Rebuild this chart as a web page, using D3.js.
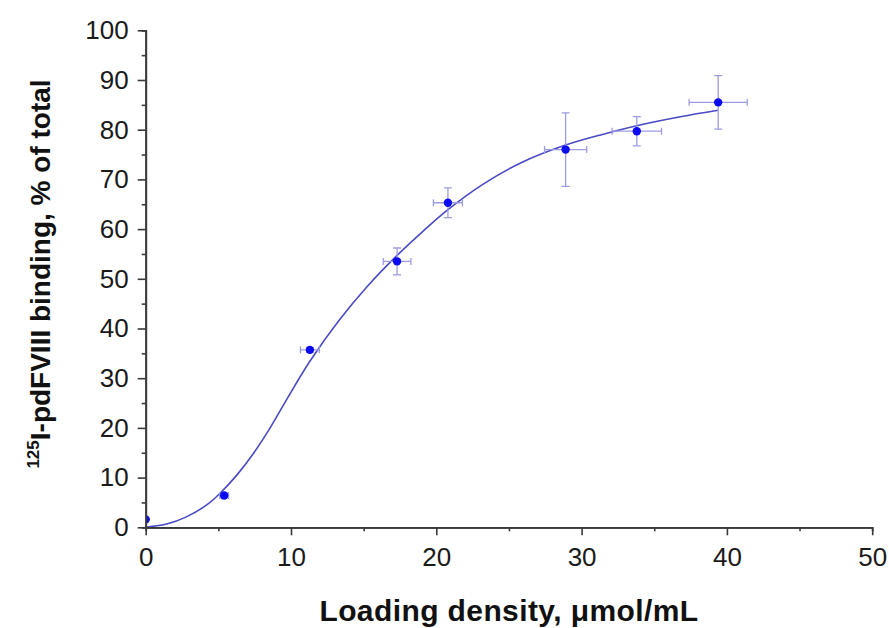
<!DOCTYPE html>
<html>
<head>
<meta charset="utf-8">
<script src="https://cdn.jsdelivr.net/npm/d3@7"></script>
<style>
  html, body { margin: 0; padding: 0; background: #fff; }
  svg text { font-family: Arial, "Liberation Sans", sans-serif; }
</style>
</head>
<body>
<svg id="chart" width="889" height="628"></svg>
<script>
// Measured binding points (loading density vs. bound fraction) with SD
const loadingDensity = [0, 5.4, 11.3, 17.3, 20.8, 28.9, 33.8, 39.4];
const bindingPct     = [1.6, 6.4, 35.7, 53.5, 65.3, 76.0, 79.7, 85.5];
const densityErr     = [0, 0.3, 0.65, 0.95, 1.0, 1.45, 1.7, 2.0];
const bindingErr     = [0, 0.4, 0.5, 2.7, 3.0, 7.4, 2.95, 5.4];

// Fitted saturation curve, sampled along x
const fitDensity = [0, 1.5, 2.8, 4.2, 5.1, 6.3, 7.4, 8.5, 9.6, 11.3, 13.3, 15.2, 17.3, 19.1, 20.8, 23.2, 25.8, 28.9, 31.5, 33.8, 36.8, 39.4];
const fitBinding = [0, 0.7, 2.1, 4.5, 6.8, 10.6, 14.8, 19.7, 25.2, 33.4, 41.6, 48.3, 54.7, 59.6, 63.9, 69.0, 73.3, 76.9, 79.1, 80.8, 82.6, 83.9];

// Axis ticks
const xMajorTicks = [0, 10, 20, 30, 40, 50];
const xMinorTicks = [5, 15, 25, 35, 45];
const yMajorTicks = [0, 10, 20, 30, 40, 50, 60, 70, 80, 90, 100];
const yMinorTicks = [5, 15, 25, 35, 45, 55, 65, 75, 85, 95];

const svg = d3.select("#chart");
const plotLeft = 145.7, plotRight = 872.2, plotTop = 30.3, plotBottom = 527.3;

const x = d3.scaleLinear().domain([0, 50]).range([plotLeft, plotRight]);
const y = d3.scaleLinear().domain([0, 100]).range([plotBottom, plotTop]);

const axisColor = "#3a3a3a";

svg.append("defs").append("clipPath").attr("id", "plotClip")
  .append("rect")
  .attr("x", plotLeft).attr("y", plotTop - 10)
  .attr("width", plotRight - plotLeft + 10).attr("height", plotBottom - plotTop + 10);

// Fitted curve
const line = d3.line()
  .x((d, i) => x(fitDensity[i]))
  .y((d, i) => y(fitBinding[i]))
  .curve(d3.curveCatmullRom.alpha(0.5));

svg.append("path")
  .datum(fitDensity)
  .attr("d", line)
  .attr("fill", "none")
  .attr("stroke", "#4a4ac4")
  .attr("stroke-width", 1.6)
  .attr("clip-path", "url(#plotClip)");

// Error bars
const pts = loadingDensity.map((d, i) => ({
  x: d, y: bindingPct[i], ex: densityErr[i], ey: bindingErr[i]
}));

const errColor = "#9c9ce4";
const eb = svg.append("g").attr("stroke", errColor).attr("stroke-width", 1.3)
  .attr("fill", "none").attr("clip-path", "url(#plotClip)");
const capH = 3.5, capW = 4;

pts.filter(p => p.ex > 0).forEach(p => {
  eb.append("line").attr("x1", x(p.x - p.ex)).attr("x2", x(p.x + p.ex))
    .attr("y1", y(p.y)).attr("y2", y(p.y));
  eb.append("line").attr("x1", x(p.x - p.ex)).attr("x2", x(p.x - p.ex))
    .attr("y1", y(p.y) - capH).attr("y2", y(p.y) + capH);
  eb.append("line").attr("x1", x(p.x + p.ex)).attr("x2", x(p.x + p.ex))
    .attr("y1", y(p.y) - capH).attr("y2", y(p.y) + capH);
});
pts.filter(p => p.ey > 0).forEach(p => {
  eb.append("line").attr("x1", x(p.x)).attr("x2", x(p.x))
    .attr("y1", y(p.y - p.ey)).attr("y2", y(p.y + p.ey));
  eb.append("line").attr("x1", x(p.x) - capW).attr("x2", x(p.x) + capW)
    .attr("y1", y(p.y - p.ey)).attr("y2", y(p.y - p.ey));
  eb.append("line").attr("x1", x(p.x) - capW).attr("x2", x(p.x) + capW)
    .attr("y1", y(p.y + p.ey)).attr("y2", y(p.y + p.ey));
});

// Data points
svg.append("g").attr("clip-path", "url(#plotClip)")
  .selectAll("circle").data(pts).join("circle")
  .attr("cx", d => x(d.x))
  .attr("cy", d => y(d.y))
  .attr("r", 4.2)
  .attr("fill", "#0a0af0");

// Axes: minor ticks first, then major ticks with labels
function styleAxis(g) {
  g.select(".domain").attr("stroke", axisColor).attr("stroke-width", 1.8);
  g.selectAll(".tick line").attr("stroke", axisColor).attr("stroke-width", 1.6);
  g.selectAll(".tick text").attr("fill", "#1a1a1a").attr("font-size", 26);
}

svg.append("g").attr("transform", `translate(0,${plotBottom})`)
  .call(d3.axisBottom(x).tickValues(xMinorTicks).tickSize(4).tickFormat(""))
  .call(styleAxis);
svg.append("g").attr("transform", `translate(0,${plotBottom})`)
  .call(d3.axisBottom(x).tickValues(xMajorTicks).tickSizeInner(8).tickSizeOuter(0).tickPadding(12).tickFormat(d3.format("d")))
  .call(styleAxis);

svg.append("g").attr("transform", `translate(${plotLeft},0)`)
  .call(d3.axisLeft(y).tickValues(yMinorTicks).tickSize(4).tickFormat(""))
  .call(styleAxis);
svg.append("g").attr("transform", `translate(${plotLeft},0)`)
  .call(d3.axisLeft(y).tickValues(yMajorTicks).tickSizeInner(8).tickSizeOuter(0).tickPadding(9).tickFormat(d3.format("d")))
  .call(styleAxis);

// Axis titles
svg.append("text")
  .attr("x", (plotLeft + plotRight) / 2)
  .attr("y", 621)
  .attr("text-anchor", "middle")
  .attr("font-size", 30)
  .attr("font-weight", "bold")
  .attr("letter-spacing", 0.4)
  .attr("fill", "#111")
  .text("Loading density, \u03bcmol/mL");

const yt = svg.append("text")
  .attr("transform", `translate(50,274) rotate(-90)`)
  .attr("text-anchor", "middle")
  .attr("font-size", 28)
  .attr("font-weight", "bold")
  .attr("fill", "#111");
yt.append("tspan").attr("font-size", 17).attr("dy", -11).text("125");
yt.append("tspan").attr("dy", 11).text("I-pdFVIII binding, % of total");
</script>
</body>
</html>
